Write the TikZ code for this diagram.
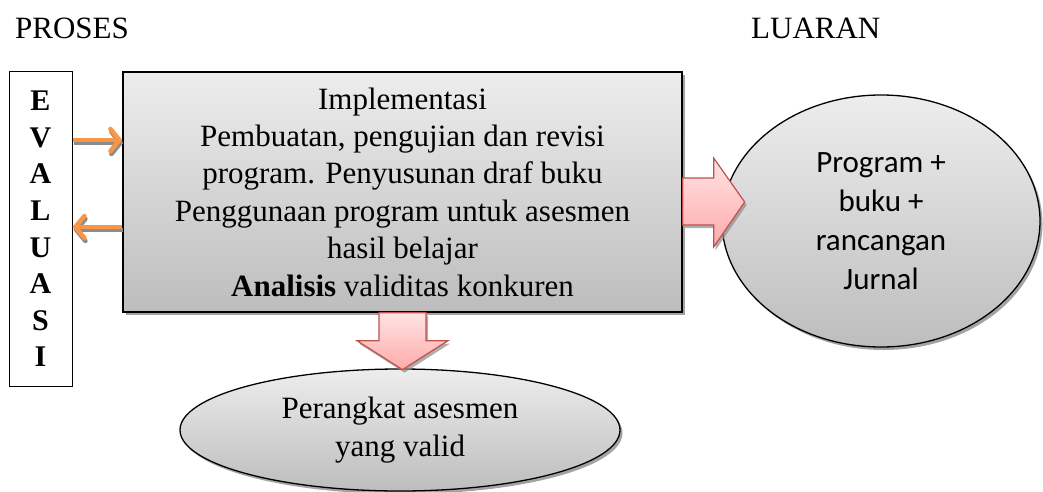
\documentclass[tikz,border=0pt]{standalone}
\usepackage{fontspec}
\setmainfont{Liberation Serif}
\newfontfamily\calibrifont{Carlito}
\usetikzlibrary{shadows,arrows.meta,calc,shapes.geometric}

\definecolor{boxtop}{HTML}{EDEDED}
\definecolor{boxbottom}{HTML}{BDBDBD}
\definecolor{pinktop}{HTML}{FFE3E3}
\definecolor{pinkbottom}{HTML}{FFAAAA}
\definecolor{arrowred}{HTML}{C0504D}
\definecolor{flowinorange}{HTML}{F79646}
\definecolor{shadowgray}{HTML}{8C8C8C}

\tikzset{
  shade3d/.style={top color=boxtop, bottom color=boxbottom, draw=black, line width=1.3pt,
    drop shadow={shadow xshift=2.5pt, shadow yshift=-3pt, fill=shadowgray, opacity=0.8}},
  serifbig/.style={font={\fontsize{31}{37.4}\selectfont}},
  blockarrow/.style={top color=pinktop, bottom color=pinkbottom, draw=arrowred, line width=1.2pt,
    line join=miter,
    drop shadow={shadow xshift=2pt, shadow yshift=-3pt, fill=shadowgray, opacity=0.7}},
  orangeflow/.style={draw=flowinorange, line width=4.5pt,
    -{Straight Barb[length=9pt, width=22pt, line cap=round]}},
  orangeshadow/.style={draw=shadowgray, line width=4.5pt,
    -{Straight Barb[length=9pt, width=22pt, line cap=round]}},
}

\begin{document}
\begin{tikzpicture}[x=1pt, y=-1pt]
  \useasboundingbox (0,0) rectangle (1043,492);

  % column headings
  \node[serifbig, anchor=base west, inner sep=0] (proses) at (15,39) {PROSES};
  \node[serifbig, anchor=base west, inner sep=0] (luaran) at (751,39) {LUARAN};

  % evaluation column with vertical letters
  \node[draw=black, line width=1pt, minimum width=63pt, minimum height=314pt, inner sep=0,
        align=center, font={\fontsize{30}{36.6}\selectfont\bfseries}]
    (ev) at (40.5,229) {E\\V\\A\\L\\U\\A\\S\\I};

  % right-hand output ellipse
  \node[shade3d, ellipse, minimum width=318pt, minimum height=252pt, inner sep=0,
        align=center, font={\calibrifont\fontsize{31}{39}\selectfont}]
    (luar) at (881,221) {Program +\\buku +\\rancangan\\Jurnal};

  % bottom output ellipse
  \node[shade3d, ellipse, minimum width=440pt, minimum height=122pt, inner sep=0,
        align=center, serifbig]
    (valid) at (400,430) {Perangkat asesmen\\yang valid};

  % main process box
  \node[shade3d, rectangle, minimum width=559pt, minimum height=240pt, inner sep=0,
        align=center, serifbig]
    (main) at (402.5,192)
    {Implementasi\\Pembuatan, pengujian dan revisi\\program. Penyusunan draf buku\\
     Penggunaan program untuk asesmen\\hasil belajar\\\textbf{Analisis} validitas konkuren};

  % block arrow to the right-hand output
  \begin{scope}[shift={(main.east)}]
    \path[blockarrow] (0,-14) -- (31,-14) -- (31,-34) -- (62,10) -- (31,55)
      -- (31,33) -- (0,33) -- cycle;
  \end{scope}

  % block arrow down to the bottom output
  \begin{scope}[shift={(main.south)}]
    \path[blockarrow] (-23.5,0) -- (23.5,0) -- (23.5,28) -- (45.5,28) -- (0,57)
      -- (-45.5,28) -- (-23.5,28) -- cycle;
  \end{scope}

  % feedback arrows between evaluation and process
  \draw[orangeshadow] ([xshift=1pt,yshift=-3pt]ev.east |- 0,140)
    -- ([xshift=1pt,yshift=-3pt]main.west |- 0,140);
  \draw[orangeflow] (ev.east |- 0,140) -- (main.west |- 0,140);
  \draw[orangeshadow] ([xshift=1pt,yshift=-3pt]main.west |- 0,227)
    -- ([xshift=1pt,yshift=-3pt]ev.east |- 0,227);
  \draw[orangeflow] (main.west |- 0,227) -- (ev.east |- 0,227);
\end{tikzpicture}
\end{document}
